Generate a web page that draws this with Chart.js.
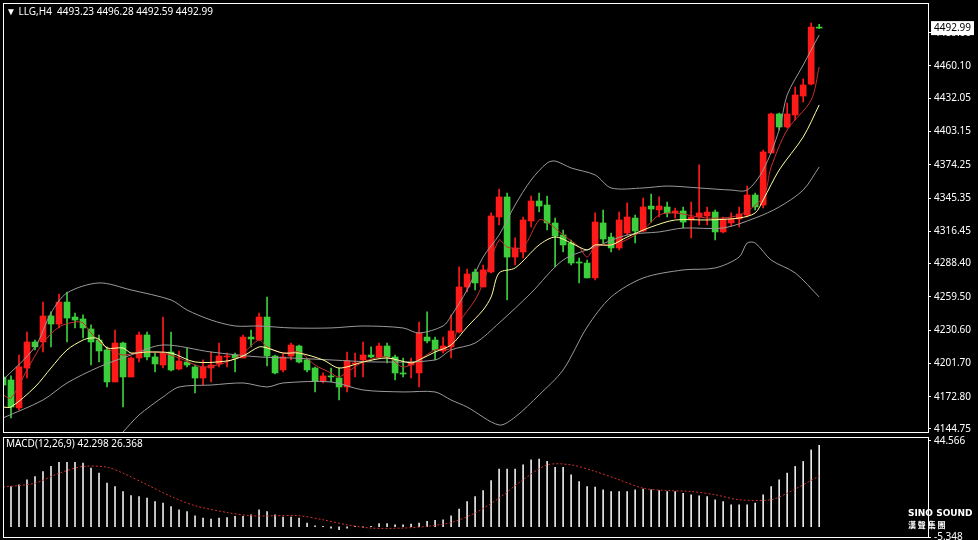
<!DOCTYPE html>
<html>
<head>
<meta charset="utf-8">
<script src="https://cdn.jsdelivr.net/npm/chart.js@4/dist/chart.umd.min.js"></script>
<style>
  body { margin: 0; background: #000; width: 978px; height: 540px; overflow: hidden; position: relative; }
  #main { position: absolute; left: 0; top: -6px; }
  #macd { position: absolute; left: 0; top: 428px; }
  .lbl { position: absolute; color: #fff; font: 10px "Noto Sans", sans-serif; white-space: pre; }
  #logo { position: absolute; left: 908px; top: 508px; color: #fff; font: bold 9px "DejaVu Sans", sans-serif; line-height: 11px; }
</style>
</head>
<body>
<canvas id="main" width="978" height="447"></canvas>
<canvas id="macd" width="978" height="118"></canvas>
<div class="lbl" style="left:6px;top:4px">▼ LLG,H4  4493.23 4496.28 4492.59 4492.99</div>
<div class="lbl" style="left:6px;top:436px">MACD(12,26,9) 42.298 26.368</div>
<div id="logo">SINO SOUND<br><span style="font:bold 8px 'Noto Sans CJK TC'">漢 聲 集 團</span></div>
<script>
// velas H4 (open, high, low, close)
const opens  = [4189.9,4187.3,4163.0,4197.7,4220.3,4220.3,4242.9,4235.9,4255.0,4242.0,4240.3,4231.6,4222.0,4213.4,4185.6,4219.4,4189.9,4206.4,4226.4,4207.3,
  4200.3,4211.6,4196.8,4202.9,4198.6,4189.0,4197.7,4201.2,4207.3,4209.0,4206.4,4224.6,4222.0,4242.0,4208.1,4196.0,4208.1,4216.8,4204.7,4197.7,
  4186.4,4190.8,4189.0,4181.2,4201.2,4204.7,4209.0,4207.3,4216.8,4207.3,4193.4,4200.3,4193.4,4224.6,4222.0,4212.5,4216.0,4229.0,4268.1,4281.1,
  4268.1,4281.1,4328.9,4346.3,4294.1,4298.5,4325.4,4342.8,4339.3,4323.7,4313.3,4306.3,4289.8,4288.9,4276.0,4323.7,4311.5,4302.0,4315.0,4328.0,
  4316.7,4338.4,4335.0,4337.6,4332.4,4334.1,4326.3,4328.9,4329.8,4333.2,4315.9,4323.7,4327.2,4330.6,4348.0,4339.3,4384.5,4418.4,4407.1,4417.5,
  4434.0,4444.4,4493.23];
const highs  = [4194.2,4190.8,4209.0,4229.0,4222.0,4255.0,4246.4,4262.0,4263.7,4245.5,4243.8,4235.1,4226.4,4216.0,4230.7,4220.3,4207.3,4229.0,4229.0,4210.7,
  4242.0,4229.0,4212.5,4215.1,4200.3,4204.7,4211.6,4219.4,4210.7,4210.7,4226.4,4230.7,4245.5,4259.4,4209.0,4209.9,4219.4,4217.7,4205.5,4198.6,
  4193.4,4197.7,4197.7,4211.6,4210.7,4220.3,4216.0,4219.4,4219.4,4209.0,4206.4,4206.4,4237.7,4246.4,4224.6,4224.6,4243.8,4285.5,4283.7,4283.7,
  4287.2,4332.4,4353.2,4349.7,4310.7,4328.9,4347.1,4349.7,4347.1,4328.0,4317.6,4308.9,4293.3,4291.5,4332.4,4335.0,4315.0,4333.2,4341.1,4330.6,
  4345.4,4348.9,4346.3,4341.9,4336.7,4337.6,4341.9,4374.1,4337.6,4335.0,4328.9,4332.4,4337.6,4355.8,4349.7,4387.1,4419.2,4419.2,4427.9,4441.8,
  4448.8,4497.4,4496.28];
const lows   = [4174.3,4154.3,4161.2,4189.0,4213.4,4211.6,4216.0,4232.5,4220.3,4232.5,4223.8,4200.3,4202.9,4181.2,4185.6,4163.8,4189.9,4202.9,4204.7,4194.2,
  4197.7,4195.1,4196.0,4198.6,4176.0,4182.9,4185.6,4198.6,4198.6,4194.2,4206.4,4216.0,4222.0,4199.4,4192.5,4194.2,4204.7,4202.1,4194.2,4176.9,
  4184.7,4185.6,4169.9,4176.9,4189.9,4189.9,4206.4,4206.4,4202.1,4187.3,4189.9,4189.0,4181.2,4219.4,4204.7,4210.7,4206.4,4228.1,4263.7,4265.5,
  4268.1,4280.3,4321.9,4256.8,4287.2,4293.3,4320.2,4333.2,4317.6,4285.5,4298.5,4287.2,4271.6,4276.0,4274.2,4306.3,4298.5,4300.2,4313.3,4306.3,
  4315.9,4324.5,4328.9,4328.9,4328.0,4319.3,4310.7,4321.9,4321.9,4308.9,4315.0,4321.1,4320.2,4328.9,4335.0,4336.7,4384.5,4404.5,4406.2,4413.2,
  4428.8,4443.6,4492.59];
const closes = [4182.9,4163.8,4198.6,4220.3,4216.0,4242.9,4235.9,4255.0,4241.1,4239.4,4232.5,4220.3,4212.5,4185.6,4219.4,4189.9,4206.4,4226.4,4207.3,4201.2,
  4210.7,4196.0,4203.8,4200.3,4189.0,4198.6,4200.3,4208.1,4208.1,4206.4,4224.6,4222.9,4242.0,4208.1,4193.4,4207.3,4217.7,4202.9,4196.0,4186.4,
  4190.8,4189.9,4181.2,4203.8,4202.1,4209.0,4207.3,4216.8,4207.3,4193.4,4192.5,4202.1,4228.1,4221.2,4213.4,4216.8,4229.9,4268.1,4279.4,4271.6,
  4282.9,4329.8,4346.3,4294.1,4302.0,4326.3,4342.8,4338.4,4323.7,4312.4,4304.6,4288.9,4288.9,4276.0,4324.5,4309.8,4302.0,4326.3,4328.9,4316.7,
  4337.6,4335.8,4338.4,4332.4,4334.1,4324.5,4328.9,4332.4,4333.2,4315.9,4327.2,4327.2,4331.5,4348.0,4337.6,4385.4,4418.4,4407.1,4418.4,4434.9,
  4443.6,4493.9,4492.99];

// Bandas de Bollinger y medias (índice de vela -> precio)
const bbUpperIdx = [0,4,6,8,12,16,21,23,26,29,32,36,41,45,50,52,55,56,58,60,62,64,66,68,69,71,74,76,80,83,87,91,93,95,97,98,100,102];
const bbUpperVal = [4187.3,4216.0,4245.5,4262.9,4271.6,4265.5,4256.8,4248.1,4239.4,4234.2,4234.2,4232.5,4232.5,4234.2,4232.5,4228.1,4234.2,4242.9,4265.5,4294.1,
  4313.3,4339.3,4361.0,4375.8,4377.5,4371.5,4365.4,4354.1,4354.1,4355.8,4354.1,4352.3,4352.3,4369.7,4404.5,4434.9,4460.9,4487.0];
const bbMidIdx = [0,5,8,12,16,20,26,32,36,41,47,54,56,59,62,66,70,74,78,82,85,90,94,97,100,102];
const bbMidVal = [4154.3,4169.9,4184.7,4198.6,4209.0,4217.7,4211.6,4207.3,4206.4,4204.7,4202.9,4204.7,4213.4,4219.4,4236.8,4262.9,4291.5,4302.8,4313.3,4315.9,
  4319.3,4319.3,4328.0,4337.6,4352.3,4372.3];
const bbLowIdx = [15,17,20,22,26,30,33,35,41,45,50,54,56,58,62,64,67,70,73,76,80,85,89,92,93,94,96,99,102];
const bbLowVal = [4142.1,4156.9,4172.5,4181.2,4182.9,4184.7,4181.2,4184.7,4185.6,4178.6,4176.9,4176.9,4169.9,4163.8,4148.2,4155.1,4174.3,4196.0,4233.3,4259.4,
  4275.9,4282.9,4284.6,4294.1,4306.3,4306.3,4291.5,4280.3,4259.4];
const maSlowIdx = [0,1,4,6,8,10,11,12,13,15,16,18,21,24,28,30,32,33,35,37,40,42,45,48,51,52,54,56,58,60,61,62,64,67,69,71,73,74,76,78,81,84,88,92,94,95,97,100,102];
const maSlowVal = [4163.8,4163.8,4181.2,4197.7,4213.4,4222.0,4223.8,4222.9,4215.1,4215.1,4210.7,4211.6,4210.7,4202.9,4203.8,4208.1,4216.0,4215.1,4210.7,4210.7,
  4204.7,4197.7,4202.9,4206.4,4202.1,4204.7,4211.6,4217.7,4233.3,4248.1,4259.4,4280.3,4284.6,4304.6,4311.5,4306.3,4300.2,4304.6,4304.6,4311.5,
  4320.2,4326.3,4326.3,4328.0,4332.4,4343.7,4369.7,4398.4,4426.2];
const maFastIdx = [0,1,3,5,7,9,10,11,13,15,17,20,22,25,28,30,32,33,35,37,39,41,42,45,48,50,52,54,56,57,59,60,62,63,65,67,68,70,72,73,74,77,80,82,84,88,92,95,96,98,101,102];
const maFastVal = [4174.3,4171.6,4196.0,4219.4,4233.3,4237.7,4236.8,4228.1,4215.1,4209.0,4211.6,4210.7,4206.4,4198.6,4202.9,4210.7,4222.0,4216.0,4210.7,4211.6,
  4200.3,4193.4,4189.9,4202.9,4207.3,4198.6,4204.7,4213.4,4215.1,4236.8,4256.8,4271.6,4308.9,4302.8,4302.8,4326.3,4324.5,4313.3,4302.8,4294.1,
  4302.8,4306.3,4317.6,4330.6,4332.4,4328.0,4330.6,4346.3,4372.3,4404.5,4430.5,4459.2];

// MACD
const macdHist = [20.0,20.9,21.8,24.4,26.1,28.7,31.3,33.5,33.5,33.5,33.0,30.4,27.8,22.6,20.9,18.3,16.2,15.7,14.9,13.1,
  12.3,10.5,8.8,7.9,5.7,4.5,4.0,4.5,4.8,5.4,5.4,6.2,8.8,7.9,6.2,5.0,5.0,4.5,1.9,0.5,
  0.2,-0.7,-1.6,-0.7,0.2,-0.2,0.2,1.6,1.6,1.0,1.0,1.4,1.9,2.8,3.3,3.6,5.7,9.2,13.1,15.7,
  18.8,24.0,29.9,29.9,29.9,32.1,34.7,35.1,33.9,30.9,30.9,26.9,23.5,20.9,20.6,19.2,18.3,18.3,18.3,19.2,
  19.5,19.2,18.8,18.3,18.3,17.4,16.6,16.1,15.7,14.0,13.1,11.4,11.4,11.4,12.3,16.6,20.9,24.4,27.8,31.3,
  33.9,39.9,42.3];
const signalIdx = [0,4,7,10,13,15,18,21,24,28,31,34,37,40,43,46,50,53,56,59,62,65,68,71,74,77,80,83,86,89,92,96,98,102];
const signalVal = [20.6,22.6,27.8,31.3,30.9,27.8,21.8,15.7,10.9,7.4,5.7,5.7,5.7,3.6,1.0,-0.7,-0.7,0.2,2.2,7.1,
  14.9,24.4,32.1,32.1,28.7,24.4,20.0,18.8,18.3,16.6,14.0,14.0,17.4,26.4];

const priceTicks = [4489.00,4460.10,4432.05,4403.15,4374.25,4345.35,4316.45,4288.40,4259.50,4230.60,4201.70,4172.80,4144.75];
const macdTicks = [44.566,-5.348];
const lastPrice = 4492.99;

const rojo = '#ff1a1a';
const verde = '#3ccf3c';
const fuente = { family: 'Noto Sans', size: 10 };

const toPts = (idx, val) => idx.map((x, k) => ({ x: x, y: val[k] }));

// Marco blanco del panel
const marco = {
    id: 'marco',
    afterDraw(chart) {
        const a = chart.chartArea, c = chart.ctx;
        c.save();
        c.strokeStyle = '#ffffff';
        c.lineWidth = 1;
        c.strokeRect(Math.round(a.left) + 0.5, Math.round(a.top) + 0.5, Math.round(a.right - a.left), Math.round(a.bottom - a.top));
        c.restore();
    }
};

// Recuadro del precio actual en el eje
const precioActual = {
    id: 'precioActual',
    afterDraw(chart) {
        const y = chart.scales.y.getPixelForValue(lastPrice);
        const c = chart.ctx;
        c.save();
        c.fillStyle = '#ffffff';
        c.fillRect(931, y - 7, 43, 14);
        c.fillStyle = '#000000';
        c.font = '10px "Noto Sans"';
        c.textBaseline = 'middle';
        c.fillText(lastPrice.toFixed(2), 934, y);
        c.restore();
    }
};

const idx = opens.map((_, i) => i);
const colores = idx.map(i => closes[i] >= opens[i] ? rojo : verde);

function lineaDs(pts, color, extra) {
    return Object.assign({
        type: 'line', data: pts, borderColor: color, borderWidth: 1,
        pointRadius: 0, tension: 0.3, fill: false
    }, extra || {});
}

const ejeX = { type: 'linear', min: 0, max: 115.6, display: false, offset: false, grid: { offset: false } };

new Chart(document.getElementById('main'), {
    type: 'bar',
    data: {
        datasets: [
            { data: idx.map(i => ({ x: i, y: [lows[i], highs[i]] })), backgroundColor: colores, barThickness: 1, grouped: false, order: 2 },
            { data: idx.map(i => ({ x: i, y: [opens[i], closes[i]] })), backgroundColor: colores, barThickness: 6, minBarLength: 1, grouped: false, order: 2 },
            lineaDs(toPts(bbUpperIdx, bbUpperVal), '#9a9a9a', { order: 1 }),
            lineaDs(toPts(bbMidIdx, bbMidVal), '#9a9a9a', { order: 1 }),
            lineaDs(toPts(bbLowIdx, bbLowVal), '#9a9a9a', { order: 1 }),
            lineaDs(toPts(maSlowIdx, maSlowVal), '#ffff9e', { order: 0 }),
            lineaDs(toPts(maFastIdx, maFastVal), '#c83030', { order: 0 })
        ]
    },
    options: {
        responsive: false, animation: false,
        layout: { padding: { left: 3, top: 3, bottom: 1, right: 0 } },
        plugins: { legend: { display: false }, tooltip: { enabled: false } },
        scales: {
            x: ejeX,
            y: {
                position: 'right', min: 4142.1, max: 4514.8,
                afterFit: s => { s.width = 50; },
                afterBuildTicks: s => { s.ticks = priceTicks.map(v => ({ value: v })); },
                ticks: { color: '#ffffff', font: fuente, padding: 3, callback: v => v.toFixed(2) },
                grid: { drawOnChartArea: false, color: '#ffffff', tickLength: 3 },
                border: { color: '#ffffff' }
            }
        }
    },
    plugins: [marco, precioActual]
});

new Chart(document.getElementById('macd'), {
    type: 'bar',
    data: {
        datasets: [
            { data: idx.map(i => ({ x: i, y: macdHist[i] })), backgroundColor: '#e8e8e8', barThickness: 1, order: 1 },
            lineaDs(toPts(signalIdx, signalVal), '#d03030', { borderDash: [2, 2], order: 0 })
        ]
    },
    options: {
        responsive: false, animation: false,
        layout: { padding: { left: 3, top: 3, bottom: 3, right: 0 } },
        plugins: { legend: { display: false }, tooltip: { enabled: false } },
        scales: {
            x: ejeX,
            y: {
                position: 'right', min: -5.348, max: 46.6,
                afterFit: s => { s.width = 50; },
                afterBuildTicks: s => { s.ticks = macdTicks.map(v => ({ value: v })); },
                ticks: { color: '#ffffff', font: fuente, padding: 3, callback: v => v.toFixed(3) },
                grid: { drawOnChartArea: false, color: '#ffffff', tickLength: 3 },
                border: { color: '#ffffff' }
            }
        }
    },
    plugins: [marco]
});
</script>
</body>
</html>
